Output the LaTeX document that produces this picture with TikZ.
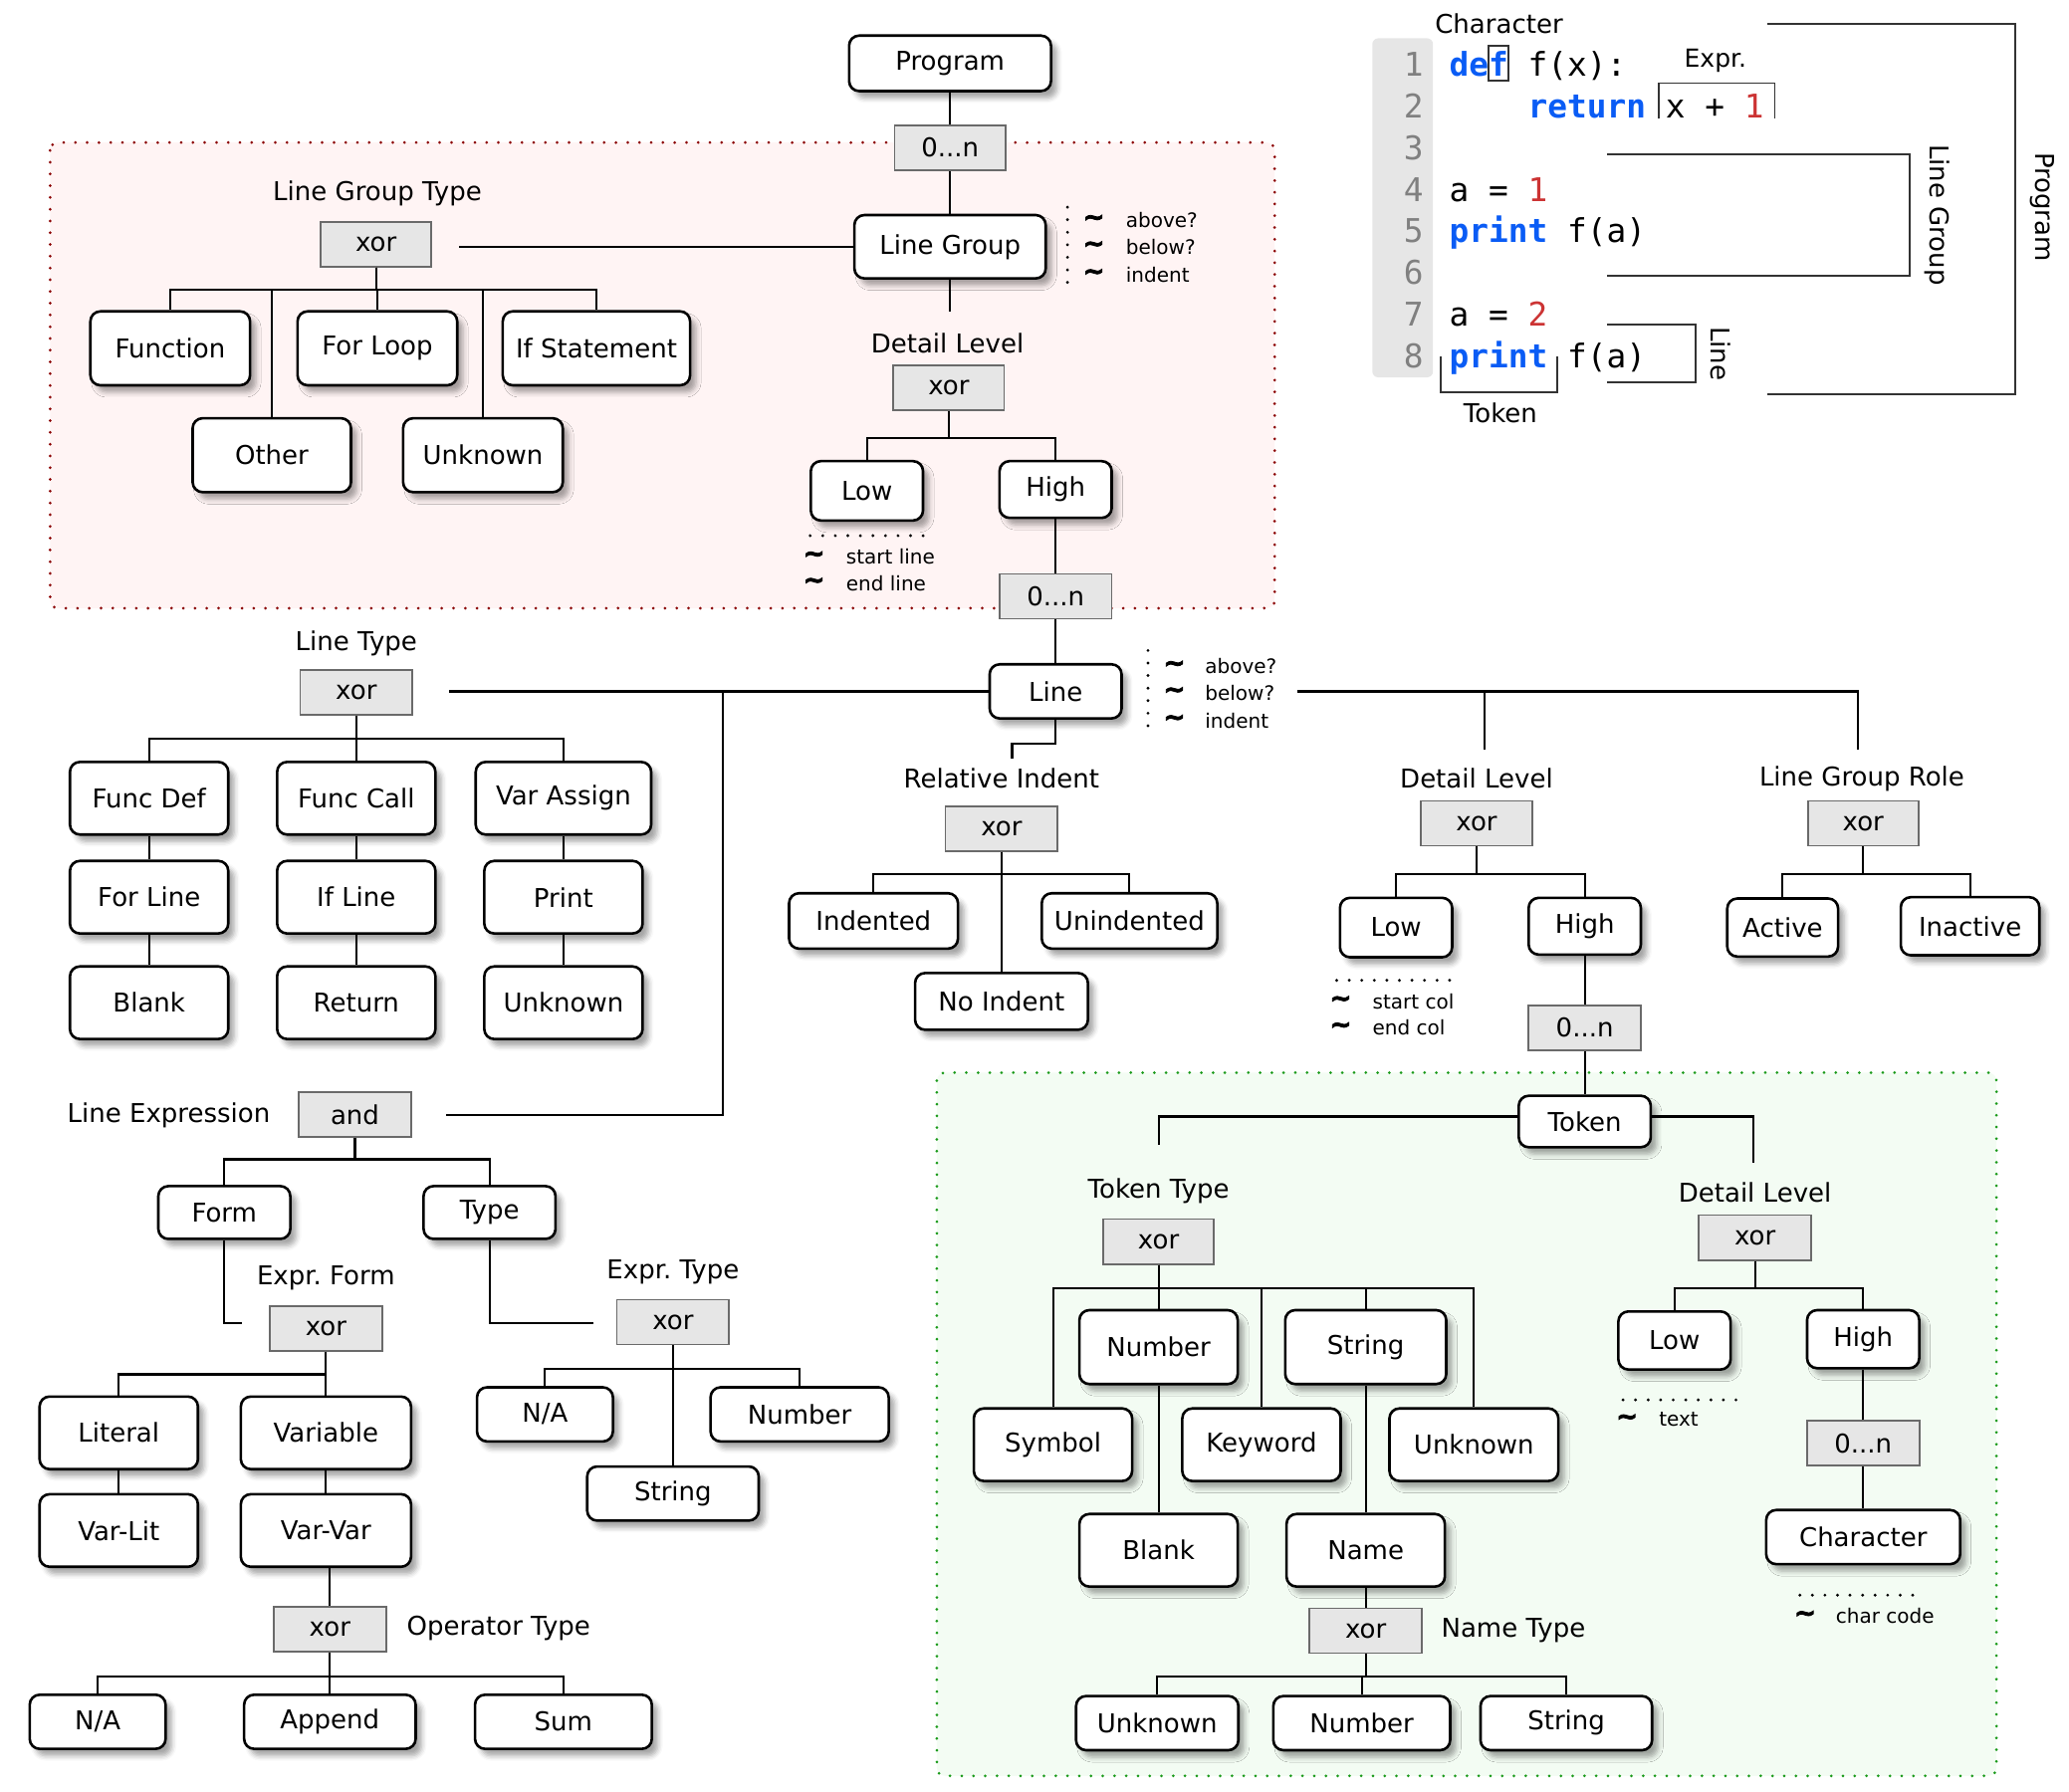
\documentclass[tikz,border=0pt]{standalone}
\usepackage{fontspec}
\setmainfont{DejaVu Sans}
\setmonofont{DejaVu Sans Mono}
\newfontfamily\tldfont[FakeBold=3]{DejaVu Sans Bold}
\usetikzlibrary{calc,shadows.blur}
\frenchspacing
\newcommand\pxu{0.6626pt}
\definecolor{kwc}{HTML}{0A5CF5}
\definecolor{numc}{HTML}{CC3333}
\definecolor{opfill}{HTML}{E6E6E6}
\definecolor{opdraw}{HTML}{6A6A6A}
\definecolor{redfill}{HTML}{FFF4F4}
\definecolor{redline}{HTML}{8B0000}
\definecolor{grnfill}{HTML}{F3FCF3}
\definecolor{grnline}{HTML}{1A9A1A}
\definecolor{lnum}{HTML}{808080}
\tikzset{
  bx/.style 2 args={draw, line width=1.3pt, rounded corners=5pt, fill=white,
    blur shadow={shadow xshift=3pt, shadow yshift=-3.5pt, shadow blur radius=2.5pt, shadow opacity=35},
    minimum width=#1*\pxu, minimum height=#2*\pxu, inner sep=0pt, font=\fontsize{13}{15}\selectfont},
  op/.style 2 args={draw=opdraw, line width=0.9pt, fill=opfill, minimum width=#1*\pxu,
    minimum height=#2*\pxu, inner sep=0pt, font=\fontsize{13}{15}\selectfont},
  lbl/.style={inner sep=0pt, font=\fontsize{13}{15}\selectfont},
  ann/.style={inner sep=0pt, anchor=west, font=\fontsize{10}{12}\selectfont},
  tld/.style={inner sep=0pt, font=\fontsize{13}{14}\tldfont},
  dotl/.style={line width=1.6pt, dash pattern=on 0pt off 6.3pt, line cap=round},
  ln/.style={line width=1.05pt},
  brk/.style={line width=0.9pt, draw=black!80},
  codet/.style={inner sep=0pt, anchor=base west, font=\fontsize{16.4}{20}\ttfamily},
  region/.style={line width=1.5pt, dash pattern=on 0pt off 5.9pt, line cap=round, rounded corners=4pt},
}
\begin{document}
\begin{tikzpicture}[x=0.6626pt,y=-0.6626pt]
\useasboundingbox (0,0) rectangle (1568,1358);

% regions
\draw[region, draw=redline, fill=redfill] (38,108) rectangle (966,461);
\draw[region, draw=grnline, fill=grnfill] (710,813) rectangle (1513,1346);

% ---------- top ----------
\node[bx={153}{42}] (prog) at (720,48) {Program};
\node[op={84}{34}] (n1) at (720,112) {0...n};
\node[bx={145}{48}] (lg) at (720,187) {Line Group};
\draw[ln] (prog.south) -- (n1.north);
\draw[ln] (n1.south) -- (lg.north);
\draw[ln] (lg.south) -- ++(0,24);

\draw[dotl] (809,157) -- (809,218);
\node[tld] (lgt1) at (829,167) {∼};
\node[tld] (lgt2) at (829,187) {∼};
\node[tld] (lgt3) at (829,208) {∼};
\node[ann] (lga1) at (853,167) {above?};
\node[ann] (lga2) at (853,187) {below?};
\node[ann] (lga3) at (853,208) {indent};

% detail level (line group)
\node[lbl] (dl1l) at (718,260) {Detail Level};
\node[op={84}{34}] (dl1) at (719,294) {xor};
\node[bx={85}{45}] (lo1) at (657,372) {Low};
\node[bx={85}{43}] (hi1) at (800,371) {High};
\node[op={85}{34}] (n2) at (800,452) {0...n};
\draw[ln] (dl1.south) -- ++(0,20) -| (lo1.north);
\draw[ln] (dl1.south) -- ++(0,20) -| (hi1.north);
\draw[ln] (hi1.south) -- (n2.north);
\draw[dotl] (614,406) -- (707,406);
\node[tld] (lot1) at (617,422) {∼};
\node[tld] (lot2) at (617,442) {∼};
\node[ann] (loa1) at (641,422) {start line};
\node[ann] (loa2) at (641,442) {end line};

% line group type
\node[lbl] (lgtl) at (286,147) {Line Group Type};
\node[op={84}{34}] (lgtx) at (285,185) {xor};
\draw[ln] (lg.west) -- ($(lg.west -| lgtx.east)+(20,0)$);
\node[bx={121}{56}] (fn) at (129,264) {Function};
\node[bx={121}{56}] (fl) at (286,264) {For Loop};
\node[bx={142}{56}] (ifs) at (452,264) {If Statement};
\node[bx={120}{56}] (oth) at (206,345) {Other};
\node[bx={121}{56}] (unk1) at (366,345) {Unknown};
\foreach \c in {fn,fl,ifs,oth,unk1} \draw[ln] (lgtx.south) -- ++(0,17) -| (\c.north);

% ---------- line ----------
\node[bx={100}{41}] (line) at (800,524) {Line};
\draw[ln] (n2.south) -- (line.north);
\draw[dotl] (870,493) -- (870,555);
\node[tld] (lnt1) at (890,505) {∼};
\node[tld] (lnt2) at (890,525) {∼};
\node[tld] (lnt3) at (890,546) {∼};
\node[ann] (lna1) at (913,505) {above?};
\node[ann] (lna2) at (913,525) {below?};
\node[ann] (lna3) at (913,546) {indent};

% line type
\node[lbl] (ltl) at (270,488) {Line Type};
\node[op={85}{34}] (ltx) at (270,525) {xor};
\draw[ln] (line.west) -- ($(line.west -| ltx.east)+(27,0)$);
\node[bx={120}{55}] (fd) at (113,605) {Func Def};
\node[bx={120}{55}] (fc) at (270,605) {Func Call};
\node[bx={133}{55}] (va) at (427,605) {Var Assign};
\node[bx={120}{55}] (fo) at (113,680) {For Line};
\node[bx={120}{55}] (ifl) at (270,680) {If Line};
\node[bx={120}{55}] (pr) at (427,680) {Print};
\node[bx={120}{55}] (bl) at (113,760) {Blank};
\node[bx={120}{55}] (ret) at (270,760) {Return};
\node[bx={120}{55}] (unk2) at (427,760) {Unknown};
\foreach \c in {fd,fc,va} \draw[ln] (ltx.south) -- ++(0,17) -| (\c.north);
\draw[ln] (fd.south) -- (fo.north);  \draw[ln] (fo.south) -- (bl.north);
\draw[ln] (fc.south) -- (ifl.north); \draw[ln] (ifl.south) -- (ret.north);
\draw[ln] (va.south) -- (pr.north);  \draw[ln] (pr.south) -- (unk2.north);

% relative indent
\coordinate (riend) at (767,575);
\draw[ln] (line.south) -- ++(0,18) -| (riend);
\node[lbl] (ril) at (759,590) {Relative Indent};
\node[op={85}{34}] (rix) at (759,628) {xor};
\node[bx={128}{42}] (ind) at (662,698) {Indented};
\node[bx={133}{42}] (uni) at (856,698) {Unindented};
\node[bx={131}{43}] (noi) at (759,759) {No Indent};
\draw[ln] (rix.south) -- ++(0,17) -| (ind.north);
\draw[ln] (rix.south) -- ++(0,17) -| (uni.north);
\draw[ln] (rix.south) -- (noi.north);

% right branch
\coordinate (rst) at (983,524);
\coordinate (rdl) at (1125,568);
\coordinate (rlgr) at (1408,568);
\draw[ln] (rst) -| (rlgr);
\draw[ln] (rdl |- rst) -- (rdl);

% detail level (line)
\node[lbl] (dl2l) at (1119,590) {Detail Level};
\node[op={85}{34}] (dl2) at (1119,624) {xor};
\node[bx={85}{45}] (lo2) at (1058,703) {Low};
\node[bx={85}{43}] (hi2) at (1201,702) {High};
\node[op={85}{34}] (n3) at (1201,779) {0...n};
\draw[ln] (dl2.south) -- ++(0,21) -| (lo2.north);
\draw[ln] (dl2.south) -- ++(0,21) -| (hi2.north);
\draw[ln] (hi2.south) -- (n3.north);
\draw[dotl] (1013,743) -- (1105,743);
\node[tld] (lot3) at (1016,759) {∼};
\node[tld] (lot4) at (1016,779) {∼};
\node[ann] (loa3) at (1040,759) {start col};
\node[ann] (loa4) at (1040,779) {end col};

% line group role
\node[lbl] (lgrl) at (1411,590) {Line Group Role};
\node[op={84}{34}] (lgrx) at (1412,624) {xor};
\node[bx={84}{44}] (act) at (1351,703) {Active};
\node[bx={105}{44}] (inact) at (1493,702) {Inactive};
\draw[ln] (lgrx.south) -- ++(0,21) -| (act.north);
\draw[ln] (lgrx.south) -- ++(0,21) -| (inact.north);

% ---------- token ----------
\node[bx={100}{39}] (tok) at (1201,850) {Token};
\draw[ln] (n3.south) -- (tok.north);
\coordinate (tten) at (878,868);
\coordinate (tdlen) at (1329,881);
\draw[ln] ([yshift=2.5pt]tok.west) -| (tten);
\draw[ln] ([yshift=2.5pt]tok.east) -| (tdlen);

\node[lbl] (ttl) at (878,903) {Token Type};
\node[op={84}{34}] (ttx) at (878,941) {xor};
\node[bx={120}{56}] (num) at (878,1021) {Number};
\node[bx={122}{56}] (str) at (1035,1021) {String};
\node[bx={120}{55}] (sym) at (798,1095) {Symbol};
\node[bx={120}{55}] (kw) at (956,1095) {Keyword};
\node[bx={128}{55}] (unk3) at (1117,1095) {Unknown};
\node[bx={120}{55}] (blk) at (878,1175) {Blank};
\node[bx={120}{55}] (nam) at (1035,1175) {Name};
\foreach \c in {sym,num,kw,str,unk3} \draw[ln] (ttx.south) -- ++(0,18) -| (\c.north);
\draw[ln] (num.south) -- (blk.north);
\draw[ln] (str.south) -- (nam.north);
\node[op={85}{34}] (ntx) at (1035,1236) {xor};
\node[lbl, anchor=west] (ntl) at (1092,1236) {Name Type};
\draw[ln] (nam.south) -- (ntx.north);
\node[bx={123}{41}] (nu) at (877,1306) {Unknown};
\node[bx={134}{41}] (nn) at (1032,1306) {Number};
\node[bx={130}{41}] (ns) at (1187,1306) {String};
\foreach \c in {nu,nn,ns} \draw[ln] (ntx.south) -- ++(0,17) -| (\c.north);

\node[lbl] (dl3l) at (1330,904) {Detail Level};
\node[op={85}{34}] (dl3) at (1330,938) {xor};
\node[bx={85}{44}] (lo3) at (1269,1016) {Low};
\node[bx={85}{44}] (hi3) at (1412,1015) {High};
\node[op={85}{34}] (n4) at (1412,1094) {0...n};
\node[bx={147}{41}] (chr) at (1412,1165) {Character};
\draw[ln] (dl3.south) -- ++(0,21) -| (lo3.north);
\draw[ln] (dl3.south) -- ++(0,21) -| (hi3.north);
\draw[ln] (hi3.south) -- (n4.north);
\draw[ln] (n4.south) -- (chr.north);
\draw[dotl] (1230,1061) -- (1322,1061);
\node[tld] (lot5) at (1233,1076) {∼};
\node[ann] (loa5) at (1257,1076) {text};
\draw[dotl] (1364,1209) -- (1456,1209);
\node[tld] (cht) at (1368,1225) {∼};
\node[ann] (cha) at (1391,1225) {char code};

% ---------- line expression ----------
\node[lbl, anchor=east] (lel) at (205,845) {Line Expression};
\node[op={85}{34}] (andx) at (269,845) {and};
\coordinate (lebr) at (548,524);
\draw[ln] (lebr) |- ($(andx.east)+(26,0)$);
\node[bx={100}{40}] (form) at (170,919) {Form};
\node[bx={100}{40}] (typ) at (371,919) {Type};
\draw[ln] (andx.south) -- ++(0,16) -| (form.north);
\draw[ln] (andx.south) -- ++(0,16) -| (typ.north);

\coordinate (efen) at (183,1003);
\draw[ln] (form.south) |- (efen);
\node[lbl] (efl) at (247,969) {Expr. Form};
\node[op={85}{34}] (efx) at (247,1007) {xor};
\node[bx={120}{55}] (lit) at (90,1086) {Literal};
\node[bx={129}{55}] (var) at (247,1086) {Variable};
\node[bx={120}{55}] (vl) at (90,1160) {Var-Lit};
\node[bx={129}{55}] (vv) at (247,1160) {Var-Var};
\draw[ln] (efx.south) -- ++(0,17) -| (lit.north);
\draw[ln] (efx.south) -- (var.north);
\draw[ln] (lit.south) -- (vl.north);
\draw[ln] (var.south) -- (vv.north);
\node[op={85}{34}] (otx) at (250,1235) {xor};
\node[lbl, anchor=west] (otl) at (308,1234) {Operator Type};
\draw[ln] (vv.south -| otx.north) -- (otx.north);
\node[bx={103}{41}] (na1) at (74,1305) {N/A};
\node[bx={130}{41}] (app) at (250,1305) {Append};
\node[bx={134}{41}] (sum) at (427,1305) {Sum};
\foreach \c in {na1,app,sum} \draw[ln] (otx.south) -- ++(0,18) -| (\c.north);

\coordinate (eten) at (450,1003);
\draw[ln] (typ.south) |- (eten);
\node[lbl] (etl) at (510,964) {Expr. Type};
\node[op={85}{34}] (etx) at (510,1002) {xor};
\node[bx={103}{41}] (na2) at (413,1072) {N/A};
\node[bx={135}{41}] (num2) at (606,1072) {Number};
\node[bx={130}{41}] (str2) at (510,1132) {String};
\draw[ln] (etx.south) -- ++(0,18) -| (na2.north);
\draw[ln] (etx.south) -- ++(0,18) -| (num2.north);
\draw[ln] (etx.south) -- (str2.north);

% ---------- code panel ----------
\fill[opfill, rounded corners=3pt] (1040,29) rectangle (1086,286);
\foreach \i/\y in {1/58,2/89.5,3/121,4/152.5,5/184,6/215.5,7/247,8/278.5}
  \node[codet, anchor=base east, text=lnum] (ln\i) at (1079,\y) {\i};
\node[codet] (c1) at (1098,58) {\textcolor{kwc}{\bfseries def} f(x):};
\node[codet] (c2) at (1157.6,89.5) {\textcolor{kwc}{\bfseries return} x + \textcolor{numc}{1}};
\node[codet] (c4) at (1098,152.5) {a = \textcolor{numc}{1}};
\node[codet] (c5) at (1098,184) {\textcolor{kwc}{\bfseries print} f(a)};
\node[codet] (c7) at (1098,247) {a = \textcolor{numc}{2}};
\node[codet] (c8) at (1098,278.5) {\textcolor{kwc}{\bfseries print} f(a)};

\draw[brk] (1128,35) rectangle (1143,61);
\draw[brk] (1257,90) -- (1257,63) -- (1345,63) -- (1345,90);
\draw[brk] (1218,117) -- (1447,117) -- (1447,209) -- (1218,209);
\draw[brk] (1218,246) -- (1285,246) -- (1285,290) -- (1218,290);
\draw[brk] (1092,270) -- (1092,297) -- (1180,297) -- (1180,270);
\draw[brk] (1339,18) -- (1527,18) -- (1527,299) -- (1339,299);

\node[lbl] (chl) at (1136,18) {Character};
\node[lbl, font=\fontsize{12.5}{15}\selectfont] (exl) at (1300,46) {Expr.};
\node[lbl] (tkl) at (1137,313) {Token};
\node[lbl, rotate=-90] (lgl) at (1468,163) {Line Group};
\node[lbl, rotate=-90] (lnl) at (1304,268) {Line};
\node[lbl, rotate=-90] (prl) at (1548,157) {Program};
\end{tikzpicture}
\end{document}
